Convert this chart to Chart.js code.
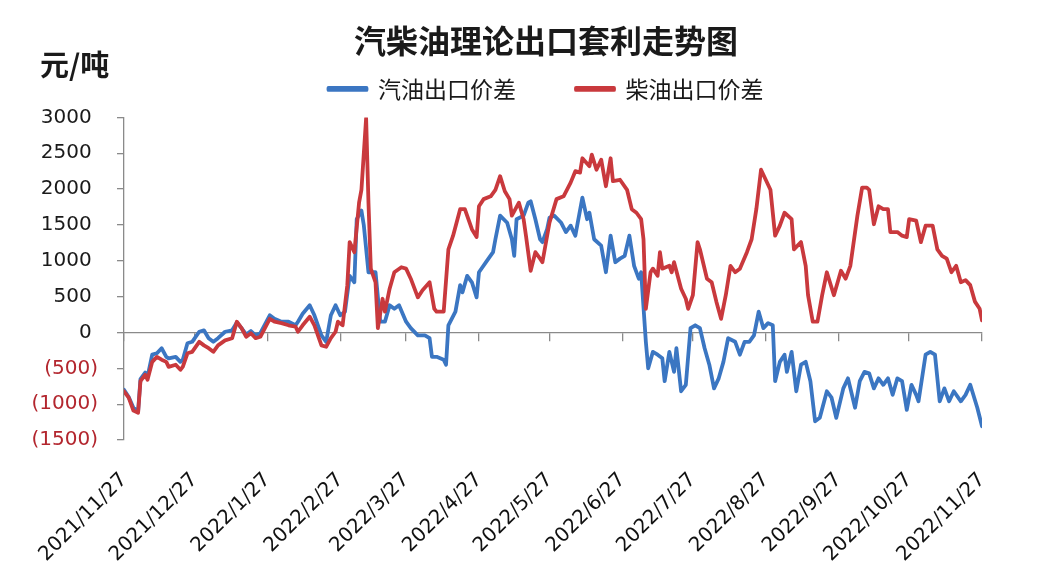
<!DOCTYPE html>
<html><head><meta charset="utf-8">
<script src="https://cdn.jsdelivr.net/npm/chart.js@4.4.1/dist/chart.umd.min.js"></script>
<style>html,body{margin:0;padding:0;background:#fff}#wrap{width:1044px;height:576px}</style>
</head><body><div id="wrap"><canvas id="c" width="1044" height="576"></canvas></div>
<script>
const chartTitle = '汽柴油理论出口套利走势图';
const unitLabel = '元/吨';
const seriesNames = ['汽油出口价差', '柴油出口价差'];
const tickDates = ['2021/11/27','2021/12/27','2022/1/27','2022/2/27','2022/3/27','2022/4/27','2022/5/27','2022/6/27','2022/7/27','2022/8/27','2022/9/27','2022/10/27','2022/11/27'];
const yTicks = [3000,2500,2000,1500,1000,500,0,-500,-1000,-1500];

const gasolineDates = ['2021-11-27','2021-11-29','2021-12-01','2021-12-03','2021-12-04','2021-12-06','2021-12-07','2021-12-09','2021-12-11','2021-12-13','2021-12-15','2021-12-16','2021-12-19','2021-12-21','2021-12-22','2021-12-24','2021-12-26','2021-12-29','2021-12-31','2022-01-02','2022-01-04','2022-01-06','2022-01-09','2022-01-12','2022-01-14','2022-01-16','2022-01-18','2022-01-20','2022-01-22','2022-01-24','2022-01-28','2022-01-30','2022-02-02','2022-02-05','2022-02-08','2022-02-09','2022-02-11','2022-02-14','2022-02-16','2022-02-19','2022-02-21','2022-02-23','2022-02-25','2022-02-27','2022-03-01','2022-03-03','2022-03-05','2022-03-06','2022-03-08','2022-03-09','2022-03-11','2022-03-14','2022-03-16','2022-03-18','2022-03-20','2022-03-22','2022-03-24','2022-03-27','2022-03-29','2022-04-01','2022-04-04','2022-04-06','2022-04-07','2022-04-09','2022-04-12','2022-04-13','2022-04-14','2022-04-17','2022-04-19','2022-04-20','2022-04-22','2022-04-24','2022-04-26','2022-04-27','2022-04-30','2022-05-03','2022-05-04','2022-05-06','2022-05-09','2022-05-11','2022-05-12','2022-05-13','2022-05-16','2022-05-18','2022-05-19','2022-05-21','2022-05-23','2022-05-24','2022-05-26','2022-05-27','2022-05-29','2022-06-01','2022-06-03','2022-06-05','2022-06-07','2022-06-10','2022-06-12','2022-06-13','2022-06-15','2022-06-18','2022-06-20','2022-06-22','2022-06-24','2022-06-26','2022-06-28','2022-06-30','2022-07-02','2022-07-04','2022-07-05','2022-07-07','2022-07-08','2022-07-10','2022-07-12','2022-07-14','2022-07-15','2022-07-17','2022-07-19','2022-07-20','2022-07-22','2022-07-24','2022-07-26','2022-07-28','2022-07-30','2022-08-01','2022-08-03','2022-08-05','2022-08-07','2022-08-09','2022-08-11','2022-08-14','2022-08-16','2022-08-18','2022-08-20','2022-08-22','2022-08-24','2022-08-26','2022-08-28','2022-08-30','2022-08-31','2022-09-02','2022-09-04','2022-09-05','2022-09-07','2022-09-09','2022-09-11','2022-09-13','2022-09-15','2022-09-17','2022-09-19','2022-09-22','2022-09-24','2022-09-26','2022-09-29','2022-10-01','2022-10-04','2022-10-06','2022-10-08','2022-10-10','2022-10-12','2022-10-14','2022-10-16','2022-10-18','2022-10-20','2022-10-22','2022-10-24','2022-10-26','2022-10-28','2022-10-30','2022-10-31','2022-11-03','2022-11-05','2022-11-07','2022-11-09','2022-11-11','2022-11-13','2022-11-15','2022-11-18','2022-11-20','2022-11-22','2022-11-25','2022-11-27'];
const gasolineValues = [-800,-900,-1050,-1100,-650,-560,-620,-310,-290,-220,-340,-360,-340,-410,-380,-150,-130,10,30,-80,-130,-80,10,30,140,60,-30,20,-40,-10,240,190,150,150,100,150,260,380,240,-40,-130,240,380,240,290,790,700,1580,1700,1500,840,840,150,150,380,330,380,150,60,-40,-40,-80,-340,-340,-380,-450,100,290,660,560,790,700,490,840,980,1120,1300,1630,1530,1300,1070,1580,1630,1810,1830,1580,1300,1260,1440,1600,1630,1530,1400,1490,1350,1880,1580,1670,1300,1210,840,1350,980,1030,1070,1350,930,750,840,-130,-500,-270,-310,-360,-680,-270,-550,-220,-820,-730,60,100,60,-220,-450,-780,-640,-410,-80,-130,-310,-130,-130,-40,290,60,130,100,-680,-410,-310,-550,-270,-820,-450,-410,-680,-1240,-1190,-820,-910,-1190,-780,-640,-1050,-680,-550,-570,-780,-640,-730,-640,-870,-640,-680,-1080,-730,-870,-960,-310,-270,-310,-960,-780,-960,-820,-960,-870,-730,-1050,-1310];

const dieselDates = ['2021-11-27','2021-11-29','2021-12-01','2021-12-03','2021-12-04','2021-12-06','2021-12-07','2021-12-09','2021-12-11','2021-12-13','2021-12-15','2021-12-16','2021-12-19','2021-12-21','2021-12-22','2021-12-24','2021-12-26','2021-12-29','2021-12-31','2022-01-02','2022-01-04','2022-01-06','2022-01-09','2022-01-12','2022-01-14','2022-01-16','2022-01-18','2022-01-20','2022-01-22','2022-01-24','2022-01-28','2022-01-30','2022-02-02','2022-02-05','2022-02-08','2022-02-09','2022-02-11','2022-02-14','2022-02-16','2022-02-19','2022-02-21','2022-02-23','2022-02-25','2022-02-26','2022-02-28','2022-03-02','2022-03-03','2022-03-05','2022-03-07','2022-03-08','2022-03-10','2022-03-11','2022-03-12','2022-03-14','2022-03-15','2022-03-17','2022-03-18','2022-03-20','2022-03-22','2022-03-25','2022-03-27','2022-03-29','2022-04-01','2022-04-03','2022-04-06','2022-04-08','2022-04-09','2022-04-12','2022-04-14','2022-04-16','2022-04-19','2022-04-21','2022-04-24','2022-04-26','2022-04-27','2022-04-29','2022-05-02','2022-05-04','2022-05-06','2022-05-08','2022-05-10','2022-05-11','2022-05-14','2022-05-16','2022-05-17','2022-05-19','2022-05-21','2022-05-23','2022-05-24','2022-05-27','2022-05-30','2022-06-02','2022-06-05','2022-06-07','2022-06-09','2022-06-10','2022-06-13','2022-06-14','2022-06-16','2022-06-18','2022-06-20','2022-06-22','2022-06-23','2022-06-26','2022-06-29','2022-07-01','2022-07-03','2022-07-05','2022-07-06','2022-07-07','2022-07-09','2022-07-10','2022-07-12','2022-07-13','2022-07-14','2022-07-17','2022-07-18','2022-07-19','2022-07-22','2022-07-24','2022-07-25','2022-07-27','2022-07-29','2022-07-30','2022-08-02','2022-08-04','2022-08-06','2022-08-08','2022-08-10','2022-08-12','2022-08-14','2022-08-16','2022-08-19','2022-08-21','2022-08-23','2022-08-25','2022-08-27','2022-08-29','2022-08-31','2022-09-02','2022-09-04','2022-09-07','2022-09-08','2022-09-11','2022-09-13','2022-09-14','2022-09-16','2022-09-18','2022-09-20','2022-09-22','2022-09-25','2022-09-28','2022-09-30','2022-10-02','2022-10-05','2022-10-07','2022-10-09','2022-10-10','2022-10-12','2022-10-14','2022-10-16','2022-10-18','2022-10-19','2022-10-22','2022-10-24','2022-10-26','2022-10-27','2022-10-30','2022-11-01','2022-11-03','2022-11-06','2022-11-08','2022-11-10','2022-11-12','2022-11-14','2022-11-16','2022-11-18','2022-11-20','2022-11-22','2022-11-24','2022-11-26','2022-11-27'];
const dieselValues = [-820,-910,-1090,-1120,-680,-590,-660,-410,-340,-380,-410,-480,-450,-520,-480,-290,-270,-130,-180,-220,-270,-180,-110,-80,150,60,-60,-10,-80,-60,190,150,130,100,80,10,100,220,100,-180,-200,-80,10,150,100,660,1260,1120,1810,1990,2990,1810,890,700,60,470,290,610,840,910,890,750,490,590,700,330,290,290,1160,1350,1720,1720,1440,1330,1760,1860,1900,1990,2180,1970,1860,1630,1810,1580,1350,860,1120,1030,980,1530,1860,1900,2090,2250,2230,2430,2320,2480,2270,2410,2040,2430,2110,2130,1990,1720,1670,1580,1300,330,840,890,790,1120,890,930,840,980,610,470,330,520,1260,1160,750,700,430,190,520,930,840,890,1120,1300,1720,2270,2130,1990,1350,1490,1670,1580,1160,1260,930,520,150,150,520,840,520,860,750,930,1630,2020,2020,1990,1510,1760,1720,1720,1400,1400,1350,1330,1580,1560,1260,1490,1490,1160,1070,1030,840,930,700,730,660,430,330,170];

const BLUE = '#3b76c2', RED = '#c9393d', AXIS = '#8a8a8a';
function dayIndex(s) {
  const p = s.split(/[-\/]/).map(Number);
  return Math.round((Date.UTC(p[0], p[1] - 1, p[2]) - Date.UTC(2021, 10, 27)) / 86400000);
}
const tickDays = tickDates.map(dayIndex);
const xMax = tickDays[tickDays.length - 1];
const toPoints = (dates, vals) => dates.map((d, i) => ({x: dayIndex(d), y: vals[i]}));
const setXTicks = s => { s.ticks = tickDays.map(v => ({value: v})); };

const unitPlugin = {
  id: 'unitLabel',
  afterDraw(chart) {
    const c = chart.ctx; c.save();
    c.font = 'bold 29px "Noto Sans CJK SC"';
    c.fillStyle = '#1a1a1a'; c.textAlign = 'left'; c.textBaseline = 'middle';
    c.fillText(unitLabel, 40, 65);
    c.restore();
  }
};

new Chart(document.getElementById('c'), {
  type: 'line',
  data: {
    datasets: [
      {label: seriesNames[0], data: toPoints(gasolineDates, gasolineValues), borderColor: BLUE, backgroundColor: BLUE, order: 1, xAxisID: 'x', yAxisID: 'y'},
      {label: seriesNames[1], data: toPoints(dieselDates, dieselValues), borderColor: RED, backgroundColor: RED, order: 0, xAxisID: 'x', yAxisID: 'y'}
    ]
  },
  options: {
    responsive: false, animation: false, devicePixelRatio: 1, events: [],
    layout: {padding: {left: 32, right: -16, top: 0, bottom: 0}},
    elements: {
      line: {borderWidth: 3.8, tension: 0, borderJoinStyle: 'round', borderCapStyle: 'round', fill: false},
      point: {radius: 0}
    },
    plugins: {
      tooltip: {enabled: false},
      title: {display: true, text: chartTitle, color: '#1a1a1a',
        font: {family: '"Noto Sans CJK SC"', size: 32, weight: 'bold'},
        padding: {top: 22, bottom: -43}},
      legend: {display: true, position: 'top',
        labels: {color: '#1a1a1a', font: {family: '"Noto Sans CJK SC"', size: 23},
          boxWidth: 38, boxHeight: 2, padding: 60,
          sort: (a, b) => a.datasetIndex - b.datasetIndex}}
    },
    scales: {
      x: {type: 'linear', position: 'bottom', min: 0, max: xMax,
        afterBuildTicks: setXTicks,
        afterFit(s) { s.height = 136; s.paddingLeft = 0; s.paddingRight = 0; },
        ticks: {autoSkip: false, minRotation: 45, maxRotation: 45, padding: 20, color: '#111',
          font: {family: '"DejaVu Sans"', size: 20},
          callback: (v, i) => tickDates[i]},
        grid: {display: false}, border: {display: false}},
      y: {position: 'left', min: -1500, max: 3000,
        afterBuildTicks(s) { s.ticks = yTicks.map(v => ({value: v})); },
        afterFit(s) { s.width = 92; },
        ticks: {padding: 19, font: {family: '"DejaVu Sans"', size: 20},
          color: c => (c.tick && c.tick.value < 0) ? '#b3262e' : '#1a1a1a',
          callback: v => v < 0 ? '(' + Math.abs(v) + ')' : v + ' '},
        grid: {display: true, drawOnChartArea: false, drawTicks: true, tickLength: 7, color: AXIS, lineWidth: 1.3},
        border: {display: true, color: AXIS, width: 1.3}},
      x0: {type: 'linear', position: {y: 0}, min: 0, max: xMax,
        afterBuildTicks: setXTicks,
        afterFit(s) { s.paddingLeft = 0; s.paddingRight = 0; },
        ticks: {display: false},
        grid: {display: true, drawOnChartArea: false, drawTicks: true, tickLength: 8, color: AXIS, lineWidth: 1.3},
        border: {display: true, color: AXIS, width: 1.3}},
      xTop: {type: 'linear', position: 'top', min: 0, max: 1,
        afterFit(s) { s.height = 7; },
        ticks: {display: false}, grid: {display: false}, border: {display: false}},
      yRight: {type: 'linear', position: 'right', min: 0, max: 1,
        afterFit(s) { s.width = 78; },
        ticks: {display: false}, grid: {display: false}, border: {display: false}}
    }
  },
  plugins: [unitPlugin]
});
</script></body></html>
